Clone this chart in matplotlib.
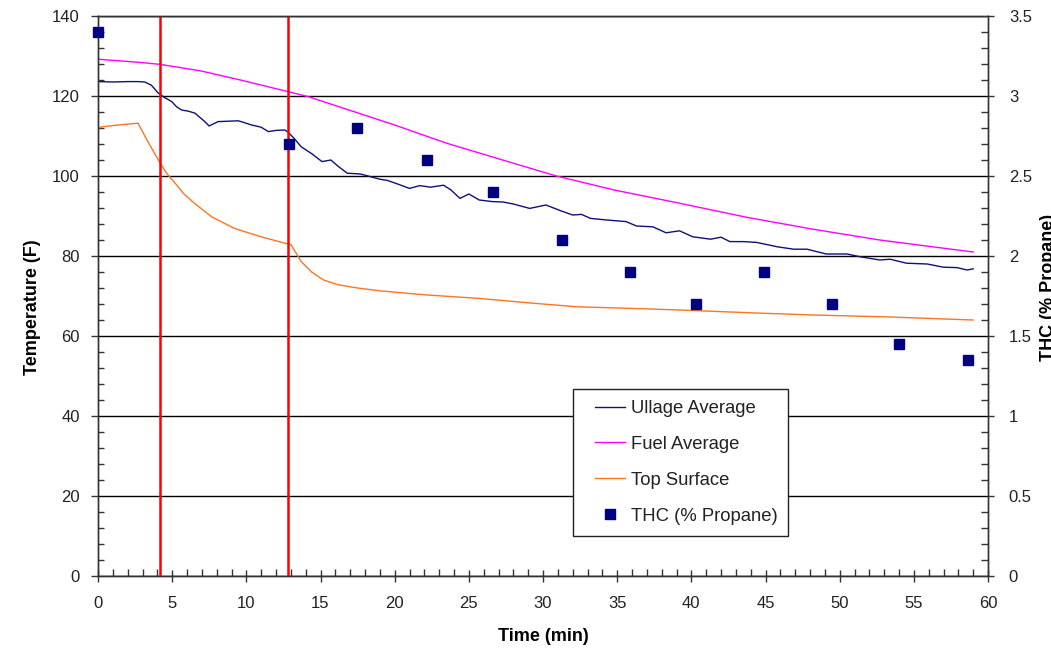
import matplotlib
matplotlib.use('Agg')
import matplotlib.pyplot as plt
from matplotlib.lines import Line2D
from matplotlib.legend_handler import HandlerLine2D

plt.rcParams['font.family'] = ['Liberation Sans', 'DejaVu Sans']

# Ullage Average (F)
ullage_t = [0, 1.0, 2.0, 2.7, 3.15, 3.6, 4.07, 4.5, 4.97, 5.3, 5.64, 6.1, 6.54, 7.2, 7.49, 8.1, 8.8,
            9.46, 9.9, 10.36, 11.0, 11.48, 12.0, 12.6, 12.8, 13.2, 13.7, 14.4, 15.1, 15.7, 16.2, 16.8,
            17.7, 18.4, 19.0, 19.5, 20.2, 21.0, 21.7, 22.4, 23.3, 23.8, 24.4, 25.0, 25.7, 26.6, 27.3,
            28.0, 29.1, 30.2, 31.2, 32.0, 32.6, 33.2, 34.3, 35.6, 36.3, 37.4, 38.3, 39.2, 40.1, 41.3,
            42.0, 42.6, 43.5, 44.4, 45.8, 46.9, 47.8, 49.1, 50.5, 51.4, 52.7, 53.4, 54.5, 55.9, 57.0,
            57.9, 58.6, 59.0]
ullage_v = [123.6, 123.5, 123.6, 123.6, 123.5, 122.7, 120.7, 119.6, 118.6, 117.3, 116.5, 116.2, 115.7,
            113.6, 112.5, 113.6, 113.7, 113.8, 113.3, 112.75, 112.2, 111.1, 111.4, 111.5, 111.0, 109.5,
            107.3, 105.6, 103.6, 104.0, 102.4, 100.7, 100.5, 99.8, 99.2, 98.9, 98.0, 96.9, 97.6, 97.2,
            97.7, 96.5, 94.4, 95.5, 94.0, 93.6, 93.5, 93.0, 91.9, 92.75, 91.3, 90.25, 90.4, 89.4, 89.0,
            88.6, 87.5, 87.3, 85.8, 86.3, 84.8, 84.2, 84.7, 83.6, 83.6, 83.4, 82.3, 81.7, 81.7, 80.5,
            80.5, 79.8, 79.0, 79.2, 78.2, 78.0, 77.2, 77.1, 76.5, 76.8]

# Fuel Average (F)
fuel_t = [0, 2.83, 4.2, 6.9, 9.6, 12.8, 14.2, 17.0, 20.0, 23.5, 28.0, 30.9, 34.8, 39.2, 43.7, 48.2, 52.7, 59.0]
fuel_v = [129.2, 128.4, 127.9, 126.3, 124.0, 121.1, 119.8, 116.4, 112.75, 108.2, 103.2, 100.0, 96.5, 93.2,
          89.7, 86.7, 84.0, 81.0]

# Top Surface (F)
top_t = [0, 0.3, 1.5, 2.7, 3.3, 4.07, 4.6, 5.2, 5.8, 6.5, 7.66, 9.2, 11.0, 12.6, 13.0, 13.7, 14.4, 15.2,
         16.2, 17.5, 19.0, 22.0, 25.7, 29.0, 32.3, 36.0, 39.2, 44.0, 48.2, 53.0, 59.0]
top_v = [112.0, 112.3, 112.8, 113.2, 109.0, 104.0, 100.8, 98.2, 95.5, 93.2, 89.8, 86.9, 84.8, 83.2, 82.9,
         78.6, 76.0, 74.0, 72.8, 72.0, 71.3, 70.3, 69.4, 68.3, 67.3, 66.9, 66.5, 65.8, 65.25, 64.8, 64.0]

# THC (% Propane)
thc_t = [0, 12.88, 17.46, 22.18, 26.63, 31.28, 35.87, 40.32, 44.9, 49.49, 54.0, 58.65]
thc_v = [3.4, 2.7, 2.8, 2.6, 2.4, 2.1, 1.9, 1.7, 1.9, 1.7, 1.45, 1.35]

# event markers (min)
events = [4.18, 12.81]

fig = plt.figure(figsize=(10.51, 6.51), dpi=100)
ax = fig.add_axes([98 / 1051, 75 / 651, 890 / 1051, 560 / 651])
ax2 = ax.twinx()

ullage_c = '#10107a'
fuel_c = '#ff00ff'
top_c = '#ff7420'
thc_c = '#000080'

ax.plot(ullage_t, ullage_v, color=ullage_c, lw=1.0)
ax.plot(fuel_t, fuel_v, color=fuel_c, lw=1.0)
ax.plot(top_t, top_v, color=top_c, lw=1.0)
for e in events:
    ax.axvline(e, color='#ff0000', lw=1.8, zorder=3)

ax2.plot(thc_t, thc_v, ls='none', marker='s', ms=6.5, color=thc_c, clip_on=False, zorder=5)

ax.set_xlim(0, 60)
ax.set_ylim(0, 140)
ax2.set_ylim(0, 3.5)

ax.set_xticks(range(0, 61, 5))
ax.set_xticks(range(0, 61, 1), minor=True)
ax.set_yticks(range(0, 141, 20))
ax.set_yticks(range(0, 141, 4), minor=True)
ax2.set_yticks([0, 0.5, 1, 1.5, 2, 2.5, 3, 3.5])
ax2.set_yticks([i / 10 for i in range(0, 36)], minor=True)
ax2.set_yticklabels(['0', '0.5', '1', '1.5', '2', '2.5', '3', '3.5'])

ax.yaxis.grid(True, color='black', lw=1.0)
ax.set_axisbelow(True)

tick_font = dict(family=['Liberation Sans Narrow', 'Liberation Sans'], size=12)
ax.tick_params(axis='x', which='major', direction='inout', length=9, width=1, color='#333333',
               labelcolor='#222222', pad=10)
ax.tick_params(axis='x', which='minor', direction='in', length=5, width=1, color='#333333')
ax.tick_params(axis='y', which='major', direction='out', length=5, width=1, color='#333333',
               labelcolor='#222222', pad=8)
ax.tick_params(axis='y', which='minor', direction='in', length=4, width=1, color='#333333')
ax2.tick_params(axis='y', which='major', direction='out', length=4, width=1, color='#333333',
                labelcolor='#222222', pad=11)
ax2.tick_params(axis='y', which='minor', direction='in', length=5, width=1, color='#333333')
for lab in ax.get_xticklabels() + ax.get_yticklabels() + ax2.get_yticklabels():
    lab.set_fontproperties(tick_font)

for a in (ax, ax2):
    for s in a.spines.values():
        s.set_color('#333333')
        s.set_linewidth(1.0)

ax.set_xlabel('Time (min)', fontsize=13, fontweight='bold', labelpad=12)
ax.set_ylabel('Temperature (F)', fontsize=13, fontweight='bold')
ax.yaxis.set_label_coords((41 - 98) / 890, 0.48)
fig.text(1040 / 1051, 1 - 287 / 651, 'THC (% Propane)', rotation=90, ha='left', va='center',
         fontsize=13, fontweight='bold')

handles = [Line2D([], [], color=ullage_c, lw=1.0),
           Line2D([], [], color=fuel_c, lw=1.0),
           Line2D([], [], color=top_c, lw=1.0),
           Line2D([], [], ls='none', marker='s', ms=6.5, color=thc_c)]
labels = ['Ullage Average', 'Fuel Average', 'Top Surface', 'THC (% Propane)']
leg = ax2.legend(handles, labels, loc='upper left', bbox_to_anchor=(0.534, 0.334), fontsize=13.3,
                 frameon=True, fancybox=False, edgecolor='#222222', framealpha=1,
                 handlelength=2.2, handletextpad=0.3, labelspacing=1.02, borderpad=0.6,
                 borderaxespad=0, handler_map={h: HandlerLine2D(xpad=0.6) for h in handles})
leg.get_frame().set_linewidth(1.0)
for t in leg.get_texts():
    t.set_color('#222222')

fig.savefig('out.png', dpi=100)
